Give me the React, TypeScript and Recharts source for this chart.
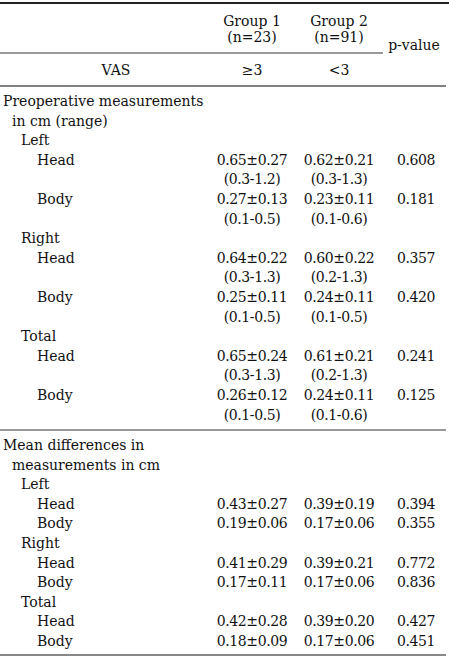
import { ScatterChart, Scatter, XAxis, YAxis, ReferenceLine } from "recharts";

// header
const groupNames = ["Group 1", "Group 2"];
const groupSizes = ["(n=23)", "(n=91)"];
const vasLabels = ["≥3", "<3"];

// section titles
const preopTitle = ["Preoperative measurements", "in cm (range)"];
const diffTitle = ["Mean differences in", "measurements in cm"];
const sides = ["Left", "Right", "Total"];
const parts = ["Head", "Body"];

// preoperative: Left Head, Left Body, Right Head, Right Body, Total Head, Total Body
const preG1Mean = [0.65, 0.27, 0.64, 0.25, 0.65, 0.26];
const preG1Sd = [0.27, 0.13, 0.22, 0.11, 0.24, 0.12];
const preG1Range = ["0.3-1.2", "0.1-0.5", "0.3-1.3", "0.1-0.5", "0.3-1.3", "0.1-0.5"];
const preG2Mean = [0.62, 0.23, 0.6, 0.24, 0.61, 0.24];
const preG2Sd = [0.21, 0.11, 0.22, 0.11, 0.21, 0.11];
const preG2Range = ["0.3-1.3", "0.1-0.6", "0.2-1.3", "0.1-0.5", "0.2-1.3", "0.1-0.6"];
const preP = [0.608, 0.181, 0.357, 0.42, 0.241, 0.125];

// mean differences
const difG1Mean = [0.43, 0.19, 0.41, 0.17, 0.42, 0.18];
const difG1Sd = [0.27, 0.06, 0.29, 0.11, 0.28, 0.09];
const difG2Mean = [0.39, 0.17, 0.39, 0.17, 0.39, 0.17];
const difG2Sd = [0.19, 0.06, 0.21, 0.06, 0.2, 0.06];
const difP = [0.394, 0.355, 0.772, 0.836, 0.427, 0.451];

const W = 449;
const H = 660;
const PITCH = 19.6;
const INDENT = [3, 12, 21, 37];
const COL = { g1: 252, g2: 339, p: 416 };
const FONT = "'DejaVu Serif', serif";

type Row = { label: string; level: number; g1?: string; g2?: string; p?: string };

const ms = (m: number, s: number) => `${m.toFixed(2)}±${s.toFixed(2)}`;

function buildSection(title: string[], mean1: number[], sd1: number[], mean2: number[], sd2: number[], p: number[], r1?: string[], r2?: string[]) {
  const rows: Row[] = [
    { label: title[0], level: 0 },
    { label: title[1], level: 1 },
  ];
  sides.forEach((side, si) => {
    rows.push({ label: side, level: 2 });
    parts.forEach((part, pi) => {
      const i = si * 2 + pi;
      rows.push({ label: part, level: 3, g1: ms(mean1[i], sd1[i]), g2: ms(mean2[i], sd2[i]), p: p[i].toFixed(3) });
      if (r1 && r2) rows.push({ label: "", level: 3, g1: `(${r1[i]})`, g2: `(${r2[i]})` });
    });
  });
  return rows;
}

const preRows = buildSection(preopTitle, preG1Mean, preG1Sd, preG2Mean, preG2Sd, preP, preG1Range, preG2Range);
const difRows = buildSection(diffTitle, difG1Mean, difG1Sd, difG2Mean, difG2Sd, difP);

const bodyRows = [
  ...preRows.map((r, i) => ({ ...r, y: 106 + i * PITCH })),
  ...difRows.map((r, i) => ({ ...r, y: 450 + i * PITCH })),
];

type Cell = { x: number; y: number; text: string; anchor: string; num?: boolean };
const cells: Cell[] = [];
groupNames.forEach((g, i) => {
  const x = i === 0 ? COL.g1 : COL.g2;
  cells.push({ x, y: 26, text: g, anchor: "middle" });
  cells.push({ x, y: 42, text: groupSizes[i], anchor: "middle" });
  cells.push({ x, y: 75, text: vasLabels[i], anchor: "middle" });
});
cells.push({ x: 414, y: 50, text: "p-value", anchor: "middle" });
cells.push({ x: 116, y: 75, text: "VAS", anchor: "middle" });
bodyRows.forEach((r) => {
  if (r.label) cells.push({ x: INDENT[r.level], y: r.y, text: r.label, anchor: "start" });
  if (r.g1) cells.push({ x: COL.g1, y: r.y, text: r.g1, anchor: "middle", num: true });
  if (r.g2) cells.push({ x: COL.g2, y: r.y, text: r.g2, anchor: "middle", num: true });
  if (r.p) cells.push({ x: COL.p, y: r.y, text: r.p, anchor: "middle", num: true });
});

const TextShape = (props: any) => {
  const { cx, cy, payload } = props;
  return (
    <text
      x={cx}
      y={cy}
      textAnchor={payload.anchor}
      fontFamily={FONT}
      fontSize={14}
      letterSpacing={payload.num ? -0.4 : 0}
      fill="#111"
    >
      {payload.text}
    </text>
  );
};

export default function App() {
  return (
    <div style={{ position: "absolute", left: 0, top: 0, background: "#fff" }}>
      <ScatterChart width={W} height={H} margin={{ top: 0, right: 0, bottom: 0, left: 0 }}>
        <XAxis type="number" dataKey="x" domain={[0, W]} hide />
        <YAxis type="number" dataKey="y" domain={[0, H]} reversed hide />
        <ReferenceLine y={3} stroke="#222" strokeWidth={2} />
        <ReferenceLine segment={[{ x: 0, y: 53 }, { x: 383, y: 53 }]} stroke="#333" strokeWidth={1} />
        <ReferenceLine segment={[{ x: 0, y: 86 }, { x: 446, y: 86 }]} stroke="#555" strokeWidth={1.5} />
        <ReferenceLine segment={[{ x: 0, y: 430 }, { x: 446, y: 430 }]} stroke="#999" strokeWidth={2} />
        <ReferenceLine segment={[{ x: 0, y: 655 }, { x: 446, y: 655 }]} stroke="#888" strokeWidth={2} />
        <Scatter data={cells} shape={<TextShape />} isAnimationActive={false} />
      </ScatterChart>
    </div>
  );
}
